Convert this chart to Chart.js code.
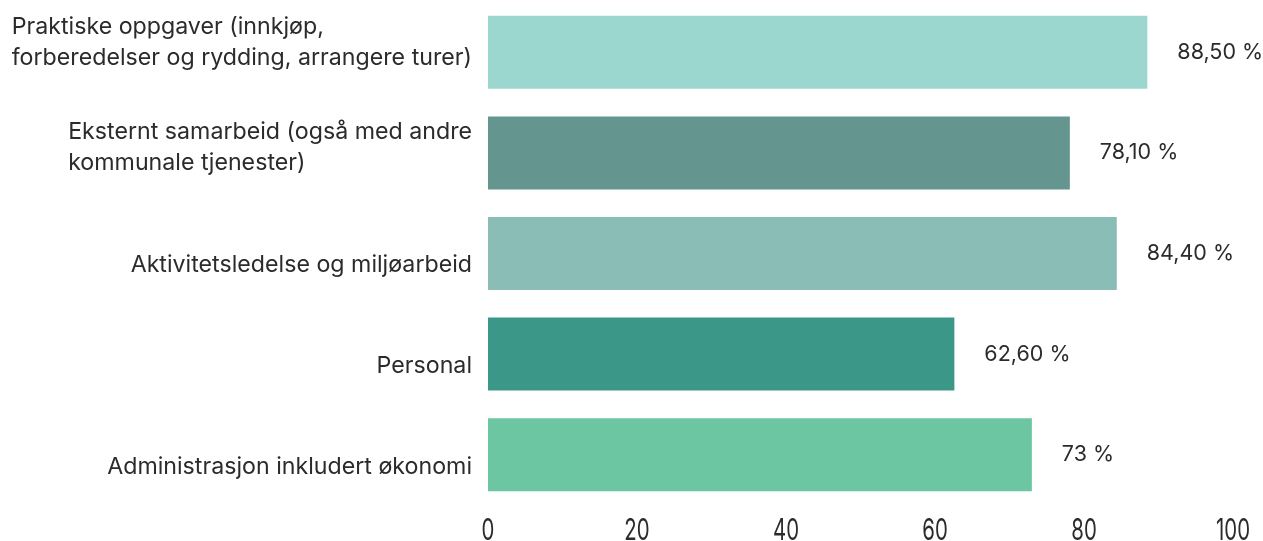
<!DOCTYPE html>
<html>
<head>
<meta charset="utf-8">
<script src="https://cdn.jsdelivr.net/npm/chart.js@4"></script>
<style>
  html, body { margin: 0; padding: 0; background: #ffffff; }
  #wrap { width: 1263px; height: 541px; }
</style>
</head>
<body>
<div id="wrap"><canvas id="taskChart"></canvas></div>
<script>
const categories = [
  ["Praktiske oppgaver (innkjøp,", "forberedelser og rydding, arrangere turer)"],
  ["Eksternt samarbeid (også med andre", "kommunale tjenester)"],
  "Aktivitetsledelse og miljøarbeid",
  "Personal",
  "Administrasjon inkludert økonomi",
];
const shares = [88.5, 78.1, 84.4, 62.6, 73];
const barColors = ["#9cd7cf", "#64968f", "#8abdb6", "#3b9888", "#6bc6a1"];
const xTicks = [0, 20, 40, 60, 80, 100];

const textColor = "#2b2b2b";
// vertical nudge of each category label block relative to its bar
const labelShift = [-10, -5, 12, 12, 12];

const formatShare = (v) =>
  (Number.isInteger(v) ? String(v) : v.toFixed(2).replace(".", ",")) + " %";

// share printed after the end of every bar
const valueLabels = {
  id: "valueLabels",
  afterDatasetsDraw(chart) {
    const { ctx } = chart;
    const meta = chart.getDatasetMeta(0);
    ctx.save();
    ctx.font = '21.5px "Inter", sans-serif';
    ctx.fillStyle = textColor;
    ctx.textAlign = "left";
    ctx.textBaseline = "middle";
    meta.data.forEach((bar, i) => {
      ctx.fillText(formatShare(shares[i]), bar.x + 30, bar.y);
    });
    ctx.restore();
  },
};

// category names: lines left aligned, block right aligned against the bars
const categoryLabels = {
  id: "categoryLabels",
  afterDraw(chart) {
    const { ctx, chartArea } = chart;
    const yScale = chart.scales.y;
    ctx.save();
    ctx.font = '23.2px "Inter", sans-serif';
    ctx.fillStyle = textColor;
    ctx.textAlign = "left";
    ctx.textBaseline = "middle";
    categories.forEach((cat, i) => {
      const lines = Array.isArray(cat) ? cat : [cat];
      const w = Math.max(...lines.map((l) => ctx.measureText(l).width));
      const x0 = chartArea.left - 16 - w;
      const cy = yScale.getPixelForTick(i) + labelShift[i];
      lines.forEach((l, j) => {
        ctx.fillText(l, x0, cy + (j - (lines.length - 1) / 2) * 31);
      });
    });
    ctx.restore();
  },
};

// condensed numbers under the value axis
const xTickLabels = {
  id: "xTickLabels",
  afterDraw(chart) {
    const { ctx } = chart;
    const xScale = chart.scales.x;
    ctx.save();
    ctx.font = '30px "Inter", sans-serif';
    ctx.fillStyle = textColor;
    ctx.textAlign = "center";
    ctx.textBaseline = "alphabetic";
    xTicks.forEach((v) => {
      const px = xScale.getPixelForValue(v);
      ctx.save();
      ctx.translate(px, 540);
      ctx.scale(0.68, 1);
      ctx.fillText(String(v), 0, 0);
      ctx.restore();
    });
    ctx.restore();
  },
};

new Chart(document.getElementById("taskChart"), {
  type: "bar",
  data: {
    labels: categories,
    datasets: [
      {
        data: shares,
        backgroundColor: barColors,
        borderWidth: 0,
        barPercentage: 0.726,
        categoryPercentage: 1,
      },
    ],
  },
  options: {
    indexAxis: "y",
    responsive: true,
    maintainAspectRatio: false,
    animation: false,
    layout: { padding: { top: 2, right: 30, left: 0, bottom: 0 } },
    scales: {
      x: {
        min: 0,
        max: 100,
        grid: { display: false, drawTicks: false },
        border: { display: false },
        ticks: { display: false },
        afterFit: (axis) => {
          axis.height = 36;
          axis.paddingLeft = 0;
          axis.paddingRight = 0;
        },
      },
      y: {
        grid: { display: false, drawTicks: false },
        border: { display: false },
        ticks: { display: false },
        afterFit: (axis) => {
          axis.width = 488;
          axis.paddingTop = 0;
          axis.paddingBottom = 0;
        },
      },
    },
    plugins: {
      legend: { display: false },
      tooltip: { enabled: false },
    },
  },
  plugins: [valueLabels, categoryLabels, xTickLabels],
});
</script>
</body>
</html>
